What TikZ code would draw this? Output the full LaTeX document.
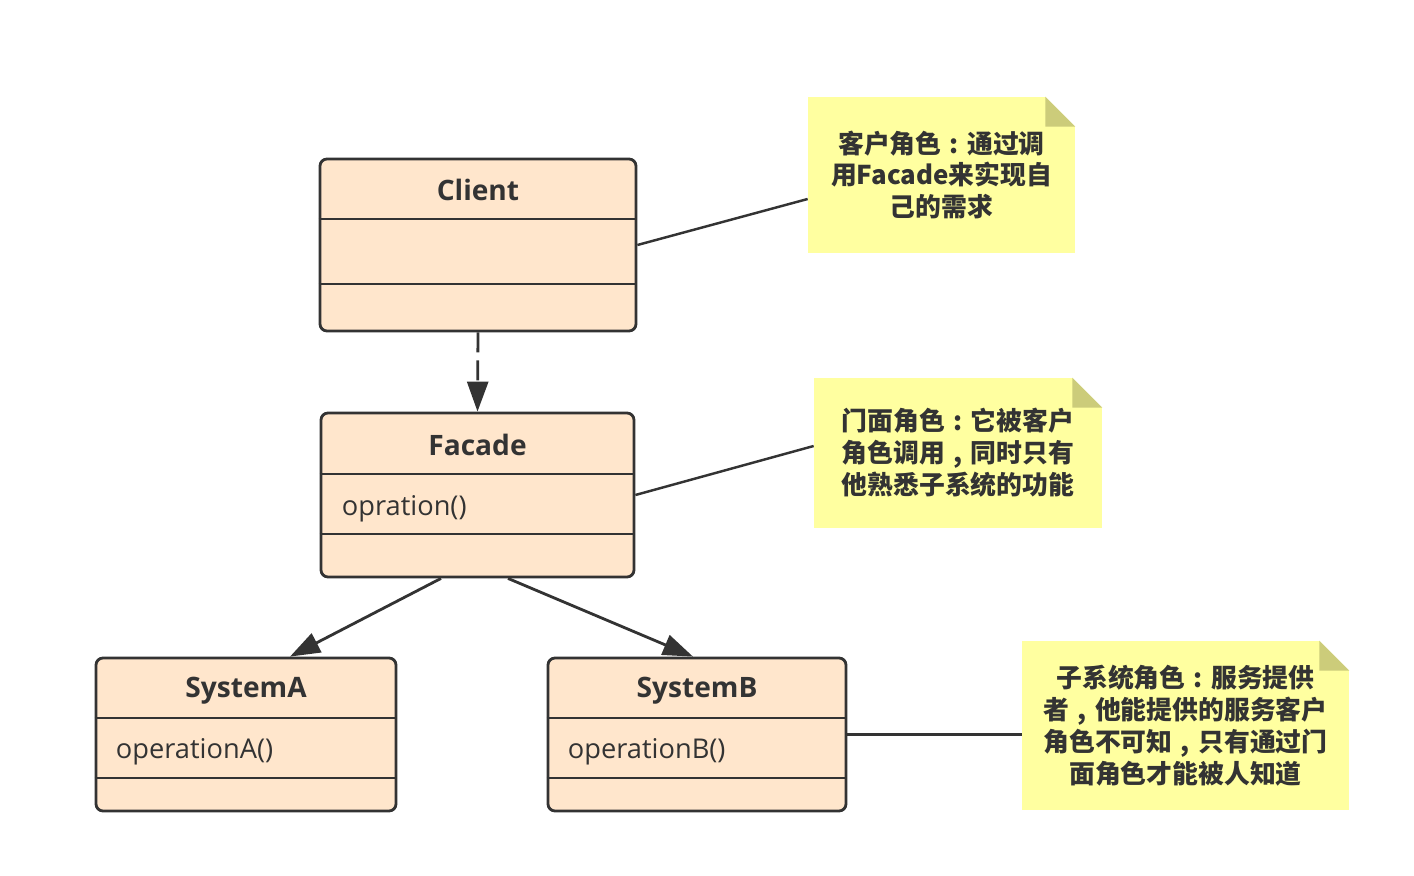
\documentclass[tikz,border=0pt]{standalone}
\usepackage{fontspec}
\setmainfont{Open Sans}
\newfontfamily\cjk{Noto Sans CJK SC}
\usetikzlibrary{arrows.meta,positioning,calc}
\definecolor{linecol}{HTML}{333333}
\definecolor{boxfill}{HTML}{FFE6CC}
\definecolor{notefill}{HTML}{FFFFA0}
\definecolor{foldcol}{HTML}{CCCC7A}
\newcommand\zhcolon{\makebox[1em][c]{:}}
\newcommand\zhcomma{\makebox[1em][c]{,}}
\begin{document}
\begin{tikzpicture}[
  font=\fontsize{15.5}{18}\selectfont,
  text=linecol,
  cls/.style={draw=linecol, fill=boxfill, line width=1.6pt, rounded corners=4pt, inner sep=0pt},
  sep/.style={draw=linecol, line width=1.6pt},
  title/.style={font=\bfseries\fontsize{16}{18}\selectfont, inner sep=0pt},
  op/.style={anchor=west, inner sep=0pt},
  note/.style={fill=notefill, inner sep=0pt, align=center, font=\cjk\bfseries\fontsize{14.7}{18.2}\selectfont},
  link/.style={draw=linecol, line width=1.4pt},
  ar/.style={draw=linecol, line width=1.6pt, -{Triangle[length=6mm, width=4.2mm]}}
]
\useasboundingbox (0,0) rectangle (28.28,-17.52);
\node[cls, minimum width=6.32cm, minimum height=3.44cm] (client) at (9.56,-4.90) {};
\node[cls, minimum width=6.26cm, minimum height=3.28cm] (facade) at (9.55,-9.90) {};
\node[cls, minimum width=6.00cm, minimum height=3.06cm] (sysA) at (4.92,-14.69) {};
\node[cls, minimum width=5.96cm, minimum height=3.06cm] (sysB) at (13.94,-14.69) {};
\foreach \c/\ya/\yb in {client/-4.38/-5.68, facade/-9.48/-10.68, sysA/-14.36/-15.56, sysB/-14.36/-15.56} {
  \draw[sep] (\c.west |- 0,\ya) -- (\c.east |- 0,\ya);
  \draw[sep] (\c.west |- 0,\yb) -- (\c.east |- 0,\yb);
}
\node[title] (clientT) at (client.center |- 0,-3.80) {Client};
\node[title] (facadeT) at (facade.center |- 0,-8.89) {Facade};
\node[title] (sysAT) at (sysA.center |- 0,-13.81) {SystemA};
\node[title] (sysBT) at (sysB.center |- 0,-13.81) {SystemB};
\node[op] (facadeOp) at ([xshift=4.4mm]facade.west |- 0,-10.17) {opration()};
\node[op] (sysAOp) at ([xshift=4.2mm]sysA.west |- 0,-15.04) {operationA()};
\node[op] (sysBOp) at ([xshift=4.2mm]sysB.west |- 0,-15.04) {operationB()};
\node[note, minimum width=5.34cm, minimum height=3.12cm] (noteC) at (18.83,-3.50) {客户角色\zhcolon 通过调\\用Facade来实现自\\己的需求};
\node[note, minimum width=5.76cm, minimum height=3.00cm] (noteF) at (19.16,-9.06) {门面角色\zhcolon 它被客户\\角色调用\zhcomma 同时只有\\他熟悉子系统的功能};
\node[note, minimum width=6.54cm, minimum height=3.38cm] (noteS) at (23.71,-14.51) {子系统角色\zhcolon 服务提供\\者\zhcomma 他能提供的服务客户\\角色不可知\zhcomma 只有通过门\\面角色才能被人知道};
\foreach \n in {noteC, noteF, noteS} {
  \fill[white] ([xshift=-6mm]\n.north east) -- (\n.north east) -- ([yshift=-6mm]\n.north east) -- cycle;
  \fill[foldcol] ([xshift=-6mm]\n.north east) -- ([shift={(-6mm,-6mm)}]\n.north east) -- ([yshift=-6mm]\n.north east) -- cycle;
}
\draw[link] (client.east) -- ([yshift=-4.8mm]noteC.west);
\draw[link] (facade.east) -- ([yshift=1.4mm]noteF.west);
\draw[link] (sysB.east) -- (sysB.east -| noteS.west);
\draw[ar, dash pattern=on 4mm off 1.6mm] (client.south) -- (facade.north);
\draw[ar] ([xshift=-7.3mm]facade.south) -- ([xshift=8.8mm]sysA.north);
\draw[ar] ([xshift=6.1mm]facade.south) -- ([xshift=-0.8mm]sysB.north);
\end{tikzpicture}
\end{document}
